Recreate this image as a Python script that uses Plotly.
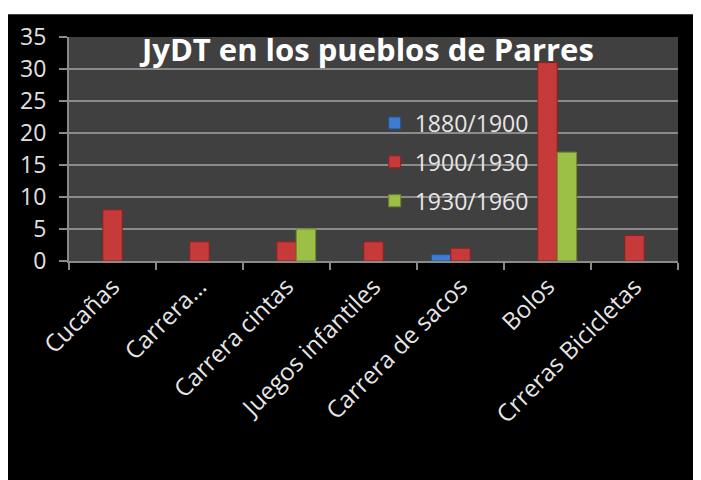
import plotly.graph_objects as go

categories = ["Cucañas", "Carrera…", "Carrera cintas", "Juegos infantiles",
              "Carrera de sacos", "Bolos", "Crreras Bicicletas"]
series_names = ["1880/1900", "1900/1930", "1930/1960"]
v_1880_1900 = [None, None, None, None, 1, None, None]
v_1900_1930 = [8, 3, 3, 3, 2, 31, 4]
v_1930_1960 = [None, None, 5, None, None, 17, None]
y_ticks = [0, 5, 10, 15, 20, 25, 30, 35]

colors = ["#3f7bd0", "#c63a3a", "#9cbf45"]
edges = ["#24528f", "#8a2222", "#6a8a2a"]

fig = go.Figure()
for name, vals, col, edge in zip(series_names, [v_1880_1900, v_1900_1930, v_1930_1960], colors, edges):
    fig.add_trace(go.Bar(
        x=categories, y=vals, name=name, legendgroup=name,
        marker=dict(color=col, line=dict(color=edge, width=1)),
    ))

fig.update_layout(
    width=693, height=472,
    margin=dict(l=58, r=23, t=27, b=219),
    paper_bgcolor="black",
    plot_bgcolor="#404040",
    barmode="group",
    bargap=0.33,
    bargroupgap=0,
    font=dict(family="Open Sans, sans-serif", color="#e6e6e6", size=23),
    showlegend=True,
    legend=dict(x=0.502, y=0.712, xanchor="left", yanchor="top",
                bgcolor="rgba(0,0,0,0)", font=dict(size=23, color="#e6e6e6"),
                tracegroupgap=6, itemwidth=30),
    annotations=[dict(text="<b>JyDT en los pueblos de Parres</b>", x=0.489, y=0.945,
                      xref="paper", yref="paper", xanchor="center", yanchor="middle",
                      showarrow=False, font=dict(size=31, color="white"))],
    shapes=[
        # thin white strip at the very top, as in the original screenshot
        dict(type="rect", xref="paper", yref="paper", x0=-0.2, x1=1.1, y0=1.1018, y1=1.2,
             fillcolor="white", line=dict(width=0), layer="above"),
    ],
)

fig.update_yaxes(range=[0, 35], tickvals=y_ticks, showgrid=True, gridcolor="#8a8a8a",
                 gridwidth=2, showline=True, linecolor="#8a8a8a", linewidth=2,
                 ticks="outside", ticklen=8, tickcolor="#8a8a8a", tickwidth=2,
                 ticklabelstandoff=8,
                 tickfont=dict(size=23, color="#e0e0e0"), zeroline=False)
fig.update_xaxes(tickangle=-45, showline=True, linecolor="#8a8a8a", linewidth=2,
                 ticks="outside", tickson="boundaries", ticklen=7, tickcolor="#8a8a8a",
                 tickwidth=2, tickfont=dict(size=24, color="#e6e6e6"))

fig.write_html("out.html")
